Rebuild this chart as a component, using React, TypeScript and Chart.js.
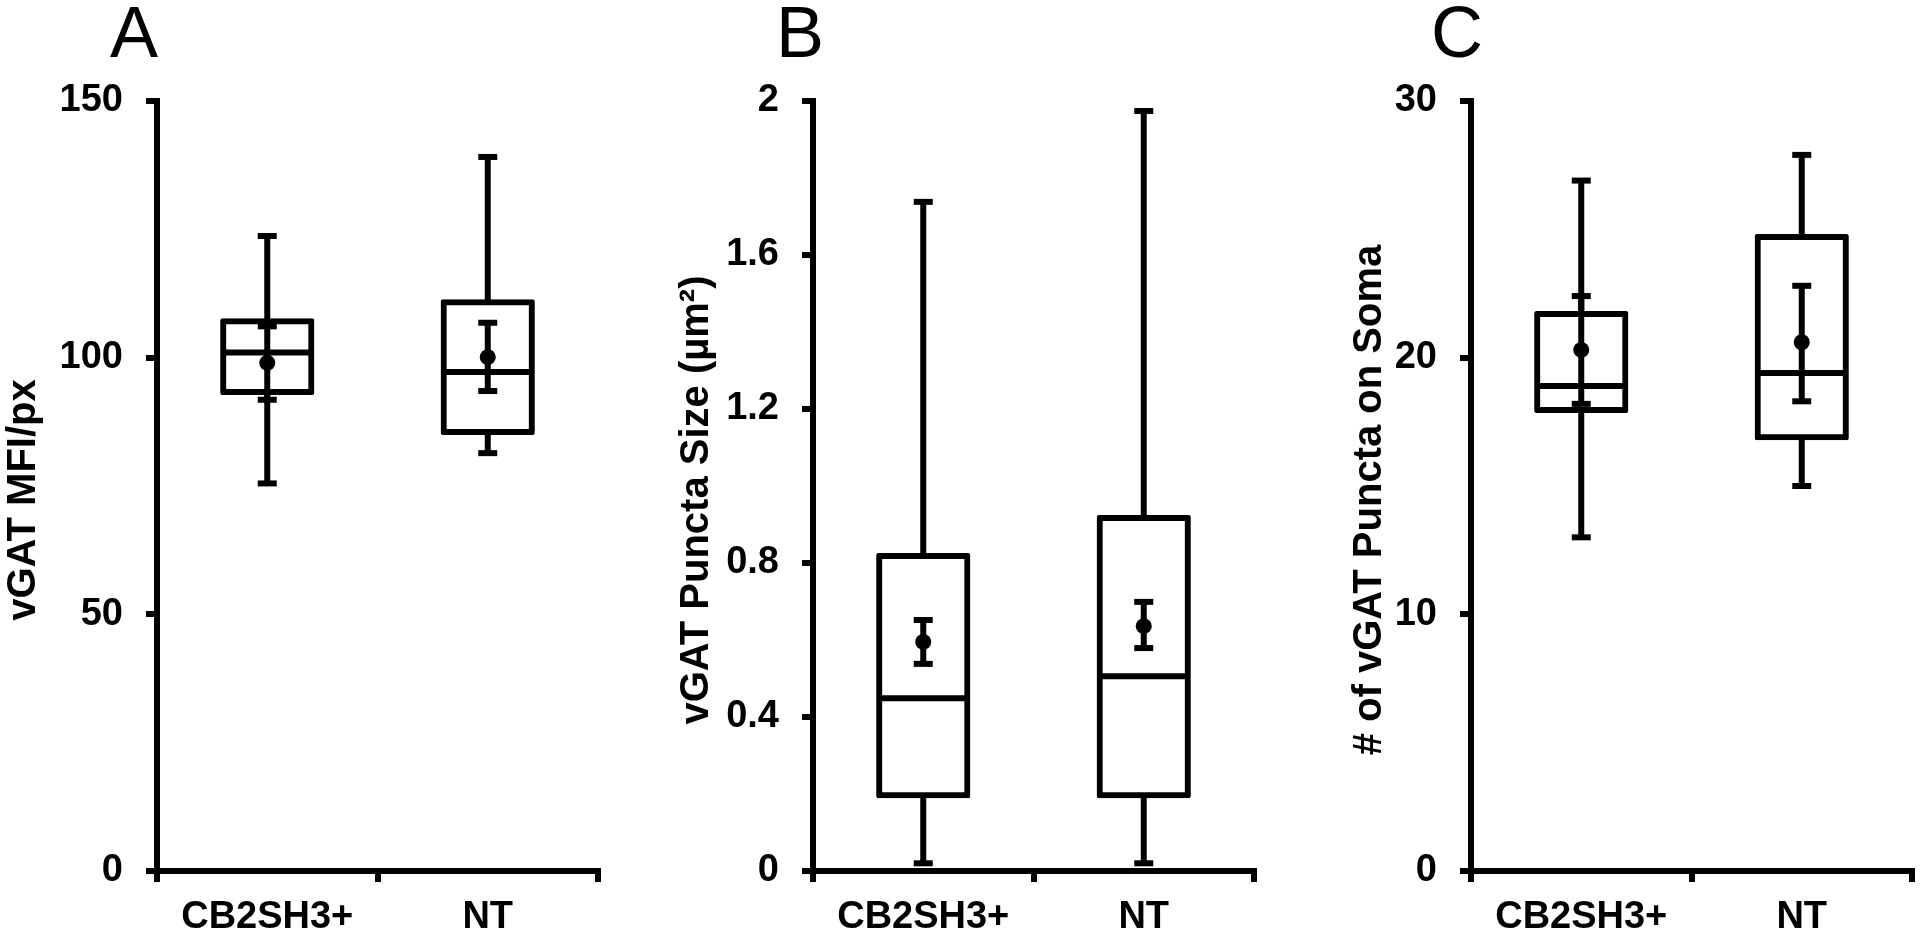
import React, { useEffect, useRef } from "react";
import { Chart, registerables } from "chart.js";

Chart.register(...registerables);

const categories = ["CB2SH3+", "NT"];

// Panel A: vGAT MFI/px
const aMin = [75.5, 81.4];
const aQ1 = [93.3, 85.5];
const aMedian = [101.0, 97.2];
const aQ3 = [107.1, 110.8];
const aMax = [123.7, 139.1];
const aMean = [99.0, 100.1];
const aSemLow = [91.8, 93.5];
const aSemHigh = [106.1, 106.8];
const aTicks = [0, 50, 100, 150];

// Panel B: vGAT Puncta Size (µm²)
const bMin = [0.02, 0.02];
const bQ1 = [0.197, 0.197];
const bMedian = [0.449, 0.506];
const bQ3 = [0.818, 0.917];
const bMax = [1.738, 1.974];
const bMean = [0.595, 0.636];
const bSemLow = [0.538, 0.579];
const bSemHigh = [0.652, 0.699];
const bTicks = [0, 0.4, 0.8, 1.2, 1.6, 2];

// Panel C: # of vGAT Puncta on Soma
const cMin = [13.0, 15.0];
const cQ1 = [17.96, 16.9];
const cMedian = [18.9, 19.4];
const cQ3 = [21.7, 24.7];
const cMax = [26.9, 27.9];
const cMean = [20.3, 20.6];
const cSemLow = [18.2, 18.3];
const cSemHigh = [22.4, 22.8];
const cTicks = [0, 10, 20, 30];

const FONT = "'Liberation Sans', Arial, Helvetica, sans-serif";
const H = 938;
const LW = 6;

type PanelCfg = {
  letter: string;
  title: string;
  min: number[];
  q1: number[];
  median: number[];
  q3: number[];
  max: number[];
  mean: number[];
  semLow: number[];
  semHigh: number[];
  ticks: number[];
  left: number;
  width: number;
  letterX: number;
  titleX: number;
};

const panels: PanelCfg[] = [
  {
    letter: "A", title: "vGAT MFI/px",
    min: aMin, q1: aQ1, median: aMedian, q3: aQ3, max: aMax, mean: aMean,
    semLow: aSemLow, semHigh: aSemHigh, ticks: aTicks,
    left: 0, width: 656, letterX: 134, titleX: 35,
  },
  {
    letter: "B", title: "vGAT Puncta Size (\u00B5m\u00B2)",
    min: bMin, q1: bQ1, median: bMedian, q3: bQ3, max: bMax, mean: bMean,
    semLow: bSemLow, semHigh: bSemHigh, ticks: bTicks,
    left: 656, width: 656, letterX: 144, titleX: 52,
  },
  {
    letter: "C", title: "# of vGAT Puncta on Soma",
    min: cMin, q1: cQ1, median: cMedian, q3: cQ3, max: cMax, mean: cMean,
    semLow: cSemLow, semHigh: cSemHigh, ticks: cTicks,
    left: 1314, width: 606, letterX: 143, titleX: 67,
  },
];

const boxExtras = {
  id: "boxExtras",
  afterDatasetsDraw(chart: any, _args: any, opts: any) {
    const { ctx } = chart;
    const x = chart.scales.x;
    const y = chart.scales.y;
    const meta = chart.getDatasetMeta(1);
    const capHalf = 9.5;
    ctx.save();
    ctx.strokeStyle = "#000";
    ctx.lineWidth = LW;
    ctx.lineCap = "butt";
    const line = (x1: number, y1: number, x2: number, y2: number) => {
      ctx.beginPath();
      ctx.moveTo(x1, y1);
      ctx.lineTo(x2, y2);
      ctx.stroke();
    };
    opts.min.forEach((_: number, i: number) => {
      const cx = x.getPixelForValue(i);
      const bw = meta.data[i].width;
      const pMin = y.getPixelForValue(opts.min[i]);
      const pMax = y.getPixelForValue(opts.max[i]);
      const pQ1 = y.getPixelForValue(opts.q1[i]);
      const pQ3 = y.getPixelForValue(opts.q3[i]);
      const pMed = y.getPixelForValue(opts.median[i]);
      const pSL = y.getPixelForValue(opts.semLow[i]);
      const pSH = y.getPixelForValue(opts.semHigh[i]);
      // whiskers
      line(cx, pQ3, cx, pMax);
      line(cx - capHalf, pMax, cx + capHalf, pMax);
      line(cx, pQ1, cx, pMin);
      line(cx - capHalf, pMin, cx + capHalf, pMin);
      // median
      line(cx - bw / 2, pMed, cx + bw / 2, pMed);
      // SEM bar
      line(cx, pSL, cx, pSH);
      line(cx - capHalf, pSH, cx + capHalf, pSH);
      line(cx - capHalf, pSL, cx + capHalf, pSL);
    });
    ctx.restore();
  },
};

const panelText = {
  id: "panelText",
  afterDraw(chart: any, _args: any, opts: any) {
    const { ctx, chartArea } = chart;
    ctx.save();
    ctx.fillStyle = "#000";
    ctx.font = `normal 72px ${FONT}`;
    ctx.textAlign = "center";
    ctx.textBaseline = "alphabetic";
    ctx.fillText(opts.letter, opts.letterX, 57);
    ctx.translate(opts.titleX, (chartArea.top + chartArea.bottom) / 2 + 14);
    ctx.rotate(-Math.PI / 2);
    ctx.font = `bold 40px ${FONT}`;
    ctx.textAlign = "center";
    ctx.textBaseline = "alphabetic";
    ctx.fillText(opts.title, 0, 0);
    ctx.restore();
  },
};

function buildConfig(p: PanelCfg): any {
  const tickFont = { family: FONT, size: 38, weight: "bold" as const };
  return {
    type: "bar",
    data: {
      labels: categories,
      datasets: [
        {
          type: "line",
          data: p.mean,
          showLine: false,
          pointRadius: 8,
          pointBackgroundColor: "#000",
          pointBorderWidth: 0,
          order: 0,
        },
        {
          type: "bar",
          data: p.q1.map((v, i) => [v, p.q3[i]]),
          backgroundColor: "#fff",
          borderColor: "#000",
          borderWidth: LW,
          borderSkipped: false,
          borderRadius: 2,
          inflateAmount: LW / 2,
          barPercentage: 0.4,
          categoryPercentage: 1,
          order: 1,
        },
      ],
    },
    options: {
      animation: false,
      responsive: false,
      events: [],
      layout: { padding: { left: 0, right: p.width - 598, top: 101, bottom: 0 } },
      plugins: {
        legend: { display: false },
        tooltip: { enabled: false },
        boxExtras: {
          min: p.min, q1: p.q1, median: p.median, q3: p.q3, max: p.max,
          semLow: p.semLow, semHigh: p.semHigh,
        },
        panelText: { letter: p.letter, title: p.title, letterX: p.letterX, titleX: p.titleX },
      },
      scales: {
        x: {
          type: "category",
          offset: true,
          grid: {
            offset: true,
            drawOnChartArea: false,
            drawTicks: true,
            tickLength: 11,
            lineWidth: LW,
            color: "#000",
          },
          border: { display: true, color: "#000", width: LW },
          ticks: { color: "#000", font: tickFont, padding: 13, maxRotation: 0, autoSkip: false },
          afterFit: (s: any) => {
            s.height = 67;
          },
        },
        y: {
          type: "linear",
          min: p.ticks[0],
          max: p.ticks[p.ticks.length - 1],
          grid: {
            drawOnChartArea: false,
            drawTicks: true,
            tickLength: 11,
            lineWidth: LW,
            color: "#000",
          },
          border: { display: true, color: "#000", width: LW },
          ticks: {
            color: "#000",
            font: tickFont,
            padding: 23,
            callback: (v: number) => String(v),
          },
          afterBuildTicks: (s: any) => {
            s.ticks = p.ticks.map((v) => ({ value: v }));
          },
          afterFit: (s: any) => {
            s.width = 157;
          },
        },
      },
    },
    plugins: [boxExtras, panelText],
  };
}

function Panel({ p }: { p: PanelCfg }) {
  const ref = useRef<HTMLCanvasElement>(null);
  useEffect(() => {
    const chart = new Chart(ref.current as HTMLCanvasElement, buildConfig(p));
    return () => chart.destroy();
  }, [p]);
  return (
    <canvas
      ref={ref}
      width={p.width}
      height={H}
      style={{ position: "absolute", left: p.left, top: 0, width: p.width, height: H }}
    />
  );
}

export default function App() {
  return (
    <div
      style={{
        position: "fixed",
        left: 0,
        top: 0,
        width: 1920,
        height: H,
        overflow: "hidden",
        background: "#fff",
      }}
    >
      {panels.map((p) => (
        <Panel key={p.letter} p={p} />
      ))}
    </div>
  );
}
